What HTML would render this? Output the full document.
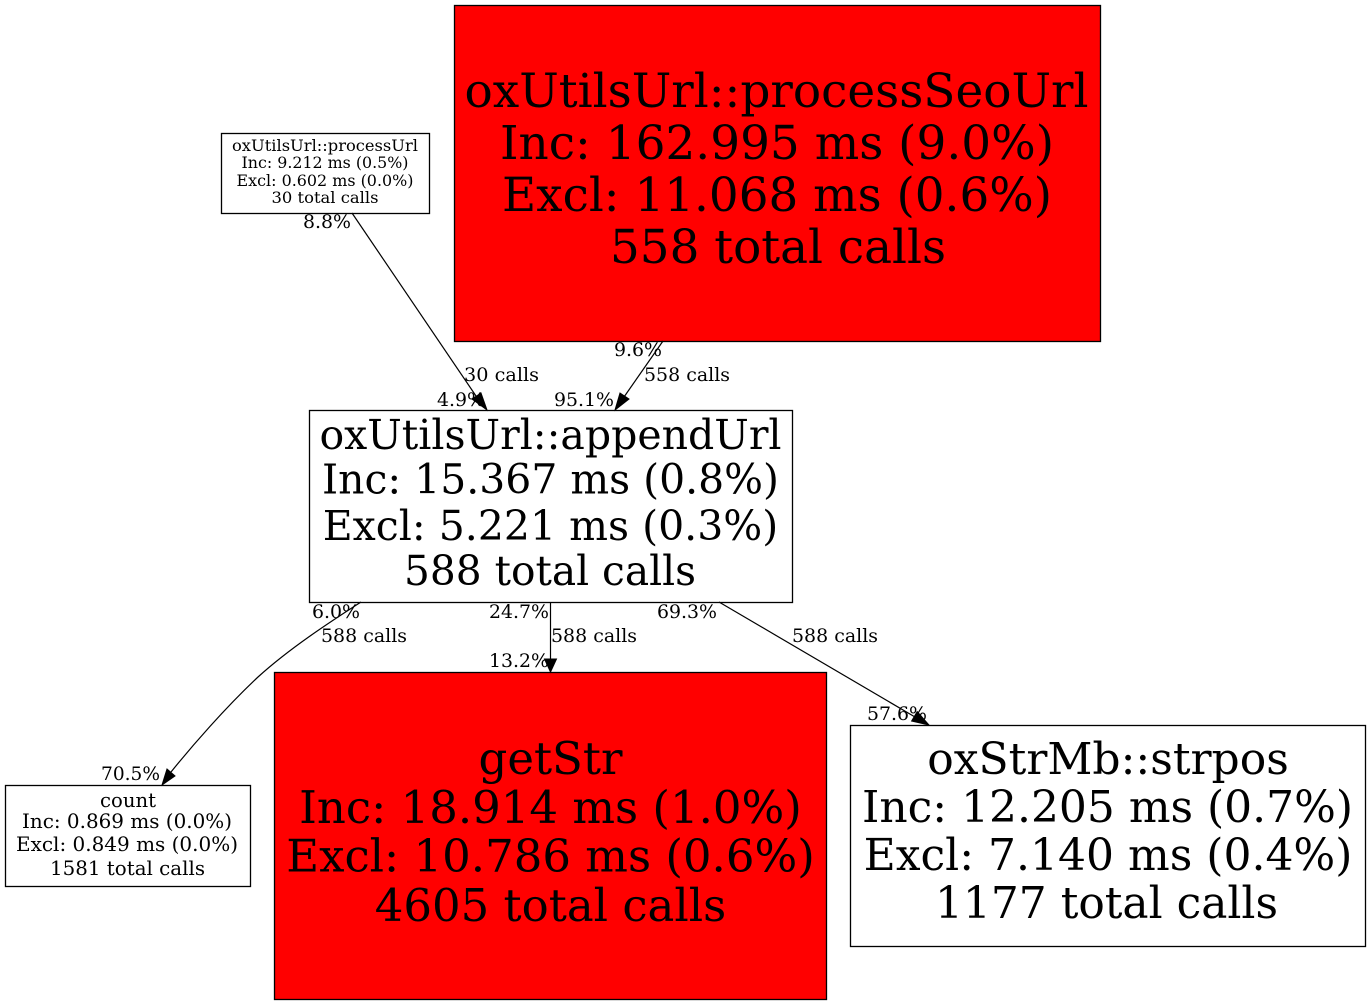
<!DOCTYPE html>
<html><head><meta charset="utf-8"><style>
html,body{margin:0;padding:0;background:#fff;width:1371px;height:1005px;overflow:hidden}
svg{display:block}
text{font-family:"DejaVu Serif",serif;text-anchor:middle;fill:#000}
.e{font-size:18.500px}
</style></head><body>
<svg width="1371" height="1005" viewBox="0 0 1371 1005" xmlns="http://www.w3.org/2000/svg">
<rect width="1371" height="1005" fill="#fff"/>
<g fill="#fff" stroke="#000" stroke-width="1.3">
<rect x="454.5" y="5.5" width="646" height="336" fill="#f00"/>
<rect x="221.5" y="133.5" width="208" height="80"/>
<rect x="309.5" y="410.5" width="483" height="192"/>
<rect x="274.5" y="672.5" width="552" height="327" fill="#f00"/>
<rect x="5.5" y="785.5" width="245" height="101"/>
<rect x="850.5" y="725.5" width="515" height="221"/>
</g>
<g fill="none" stroke="#000" stroke-width="1.2">
<path d="M352 213L476 396"/>
<path d="M663 341L624 397"/>
<path d="M361 602C330 622 290 648 258 677C225 708 192 746 171 772"/>
<path d="M550.500 602V660"/>
<path d="M719 602L915 717"/>
</g>
<g fill="#000" stroke="#000">
<polygon points="487,410 472,399 481,393"/>
<polygon points="615,410 620,393 629,399"/>
<polygon points="162,785 167,769 175,776"/>
<polygon points="550.500,672 544.500,659 556.500,659"/>
<polygon points="929,725 911.600,721 917.200,711.600"/>
</g>
<g>
<text x="776.500" y="107" font-size="47" textLength="624" lengthAdjust="spacingAndGlyphs">oxUtilsUrl::processSeoUrl</text>
<text x="777" y="159" font-size="47" textLength="554" lengthAdjust="spacingAndGlyphs">Inc: 162.995 ms (9.0%)</text>
<text x="777" y="211" font-size="47" textLength="550" lengthAdjust="spacingAndGlyphs">Excl: 11.068 ms (0.6%)</text>
<text x="778" y="263" font-size="47" textLength="336" lengthAdjust="spacingAndGlyphs">558 total calls</text>
<text x="325" y="151" font-size="16" textLength="186" lengthAdjust="spacingAndGlyphs">oxUtilsUrl::processUrl</text>
<text x="325" y="168" font-size="16" textLength="167" lengthAdjust="spacingAndGlyphs">Inc: 9.212 ms (0.5%)</text>
<text x="325" y="186" font-size="16" textLength="177" lengthAdjust="spacingAndGlyphs">Excl: 0.602 ms (0.0%)</text>
<text x="325" y="203" font-size="16" textLength="107" lengthAdjust="spacingAndGlyphs">30 total calls</text>
<text x="550.500" y="449" font-size="41">oxUtilsUrl::appendUrl</text>
<text x="550.500" y="493.500" font-size="41" textLength="457" lengthAdjust="spacingAndGlyphs">Inc: 15.367 ms (0.8%)</text>
<text x="550.500" y="540" font-size="41">Excl: 5.221 ms (0.3%)</text>
<text x="550" y="585" font-size="41" textLength="292" lengthAdjust="spacingAndGlyphs">588 total calls</text>
<text x="550.500" y="774" font-size="45">getStr</text>
<text x="550.500" y="823" font-size="45">Inc: 18.914 ms (1.0%)</text>
<text x="550.500" y="871.500" font-size="45">Excl: 10.786 ms (0.6%)</text>
<text x="550.500" y="921" font-size="45">4605 total calls</text>
<text x="128" y="807" font-size="19.500" textLength="56" lengthAdjust="spacingAndGlyphs">count</text>
<text x="127" y="828" font-size="19.500" textLength="210" lengthAdjust="spacingAndGlyphs">Inc: 0.869 ms (0.0%)</text>
<text x="127" y="851" font-size="19.500" textLength="222" lengthAdjust="spacingAndGlyphs">Excl: 0.849 ms (0.0%)</text>
<text x="127.500" y="875" font-size="19.500" textLength="155" lengthAdjust="spacingAndGlyphs">1581 total calls</text>
<text x="1108" y="774" font-size="44">oxStrMb::strpos</text>
<text x="1107.500" y="822" font-size="44" textLength="491" lengthAdjust="spacingAndGlyphs">Inc: 12.205 ms (0.7%)</text>
<text x="1108" y="870" font-size="44">Excl: 7.140 ms (0.4%)</text>
<text x="1106.500" y="918" font-size="44" textLength="343" lengthAdjust="spacingAndGlyphs">1177 total calls</text>
</g>
<g class="e">
<text x="327" y="228" textLength="48" lengthAdjust="spacingAndGlyphs">8.8%</text>
<text x="501.500" y="381" textLength="75" lengthAdjust="spacingAndGlyphs">30 calls</text>
<text x="461" y="406" textLength="48" lengthAdjust="spacingAndGlyphs">4.9%</text>
<text x="638" y="356" textLength="48" lengthAdjust="spacingAndGlyphs">9.6%</text>
<text x="687" y="381" textLength="86" lengthAdjust="spacingAndGlyphs">558 calls</text>
<text x="584" y="406" textLength="60" lengthAdjust="spacingAndGlyphs">95.1%</text>
<text x="336" y="618" textLength="48" lengthAdjust="spacingAndGlyphs">6.0%</text>
<text x="364" y="642" textLength="86" lengthAdjust="spacingAndGlyphs">588 calls</text>
<text x="130.500" y="780" textLength="59" lengthAdjust="spacingAndGlyphs">70.5%</text>
<text x="519" y="618" textLength="60" lengthAdjust="spacingAndGlyphs">24.7%</text>
<text x="594" y="642" textLength="86" lengthAdjust="spacingAndGlyphs">588 calls</text>
<text x="519" y="667" textLength="60" lengthAdjust="spacingAndGlyphs">13.2%</text>
<text x="687" y="618" textLength="60" lengthAdjust="spacingAndGlyphs">69.3%</text>
<text x="835" y="642" textLength="86" lengthAdjust="spacingAndGlyphs">588 calls</text>
<text x="897" y="720" textLength="60" lengthAdjust="spacingAndGlyphs">57.6%</text>
</g>
</svg>
</body></html>
